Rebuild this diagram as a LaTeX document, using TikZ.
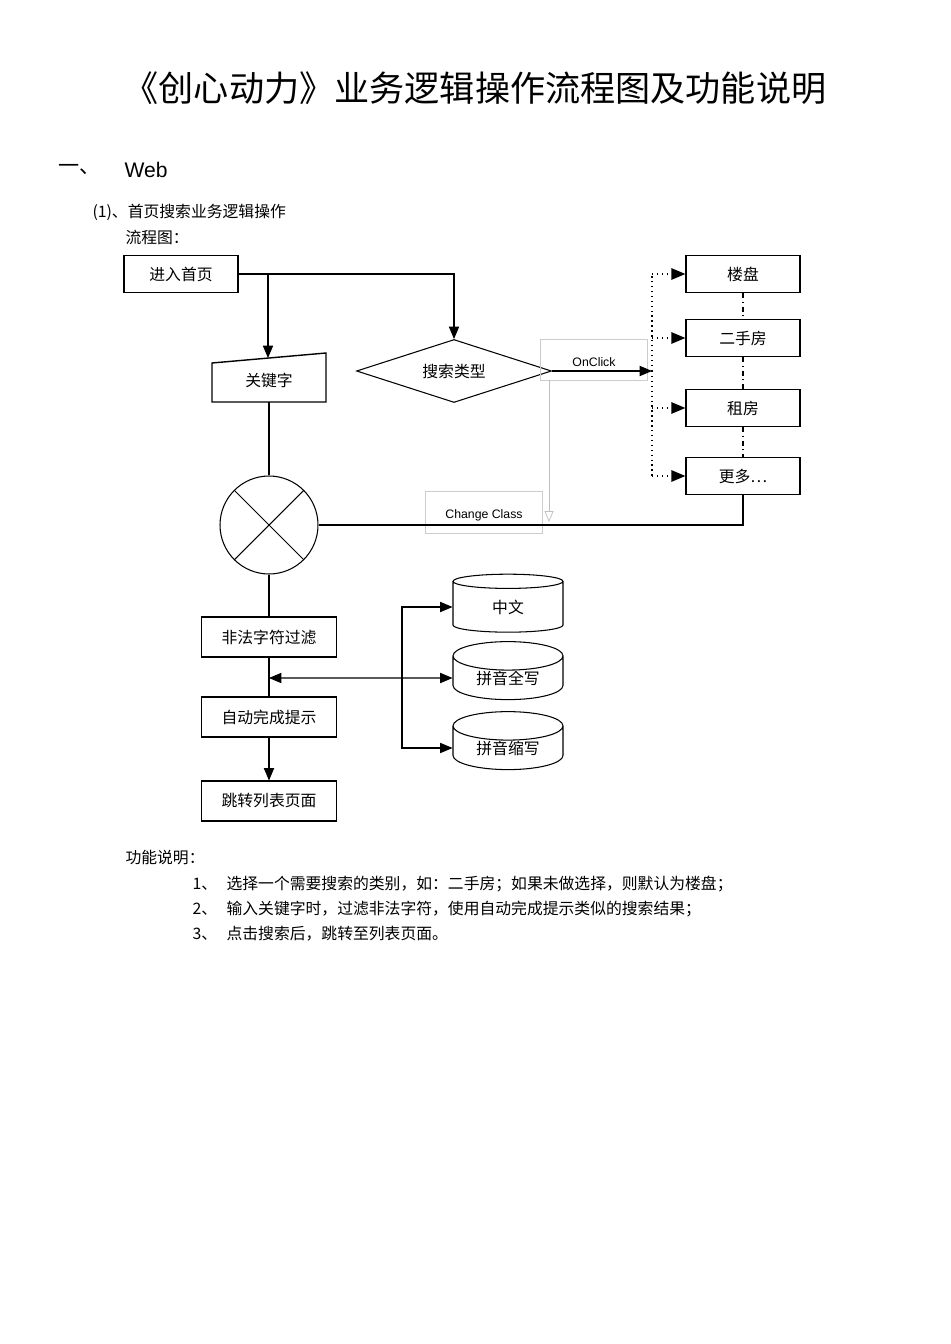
\documentclass[tikz,border=0pt]{standalone}
\usepackage{fontspec}
\setmainfont{Liberation Sans}
\newfontfamily\cjk{Noto Sans CJK SC}
\usetikzlibrary{arrows,shapes.geometric}

\begin{document}
\begin{tikzpicture}[x=0.02cm,y=-0.02cm,>=triangle 45,semithick,
  box/.style={draw,rectangle,minimum width=2.28cm,minimum height=0.74cm,inner sep=0pt,font=\cjk\small},
  lbox/.style={draw,rectangle,minimum width=2.7cm,minimum height=0.8cm,inner sep=0pt,font=\cjk\small},
  db/.style={draw,cylinder,shape border rotate=90,aspect=0.45,minimum width=2.2cm,minimum height=1.16cm,inner sep=0pt,font=\cjk\small},
  lab/.style={draw=black!20,thin,rectangle,inner sep=0pt,font=\scriptsize},
  txt/.style={anchor=west,inner sep=0pt,font=\cjk\small}]
      \useasboundingbox (0,0) rectangle (950,1344);

      % headings
      \node (title) at (475,88) {\cjk\fontsize{20}{24}\selectfont 《创心动力》业务逻辑操作流程图及功能说明};
      \node[txt,font=\cjk\large] (h1) at (58,170) {一、};
      \node[txt,font=\large] (h1b) at (124,170) {Web};
      \node[txt] (h2) at (92,212) {(1)、首页搜索业务逻辑操作};
      \node[txt] (h3) at (125,237) {流程图：};

      % left column
      \node [box] (home) at (181,274) {进入首页};
      \coordinate (k1) at (212,363); \coordinate (k2) at (326,353);
      \coordinate (k3) at (326,402); \coordinate (k4) at (212,402);
      \draw [thick] (k1) -- (k2) -- (k3) -- (k4) -- cycle;
      \node [font=\cjk\small] (key) at (269,380) {关键字};
      \node [draw,circle,minimum size=1.96cm,inner sep=0pt] (mix) at (269,525) {};
      \draw (mix.north west) -- (mix.south east) (mix.north east) -- (mix.south west);
      \node [lbox] (filter) at (269,637) {非法字符过滤};
      \node [lbox] (auto) at (269,717) {自动完成提示};
      \node [lbox] (jump) at (269,801) {跳转列表页面};

      % search type
      \node [draw,diamond,aspect=3.1,minimum width=3.9cm,minimum height=1.26cm,inner sep=0pt,font=\cjk\small] (type) at (454,371) {搜索类型};
      \node [lab,minimum width=2.14cm,minimum height=0.82cm] (click) at (594,360) {};
      \node [font=\scriptsize] (clicklab) at (594,362) {OnClick};
      \node [lab,minimum width=2.34cm,minimum height=0.84cm] (chg) at (484,512) {};
      \node [font=\scriptsize] (chglab) at (484,515) {Change Class};

      % categories
      \node [box,thick] (c1) at (743,274) {楼盘};
      \node [box,thick] (c2) at (743,338) {二手房};
      \node [box,thick] (c3) at (743,408) {租房};
      \node [box,thick] (c4) at (743,476) {更多…};
      \coordinate (bus) at (652,371);

      % dictionaries
      \node [db] (d1) at (508,607) {中文};
      \node [db] (d2) at (508,678) {拼音全写};
      \node [db] (d3) at (508,748) {拼音缩写};
      \coordinate (br) at (268,274);
      \coordinate (kin) at (268,358);
      \coordinate (split) at (269,678);
      \coordinate (fork) at (402,678);

      % connectors
      \draw [->] (home.east) -| (type.north);
      \draw [->] (br) -- (kin);
      \draw [->] (type.east) -- (bus);
      \draw [dotted,thick] (bus) -- (bus |- c1.west) (bus) -- (bus |- c4.west);
      \foreach \c in {c1,c2,c3,c4}
        \draw [dotted,thick,->] (bus |- \c.west) -- (\c.west);
      \draw [dash dot] (c1.south) -- (c2.north) (c2.south) -- (c3.north) (c3.south) -- (c4.north);
      \draw [black!25,thin,-open triangle 45] (549,380) -- (549,522);
      \draw (c4.south) |- (mix.east);
      \draw (269,402) -- (mix.north);
      \draw (mix.south) -- (filter.north);
      \draw (filter.south) -- (auto.north);
      \draw [<->] (split) -- (d2.west);
      \draw [->] (fork) |- (d1.west);
      \draw [->] (fork) |- (d3.west);
      \draw [->] (auto.south) -- (jump.north);

      % notes
      \node[txt] (n0) at (125,858) {功能说明：};
      \node[txt] (n1) at (192,884) {1、\hspace{0.6em}选择一个需要搜索的类别，如：二手房；如果未做选择，则默认为楼盘；};
      \node[txt] (n2) at (192,909) {2、\hspace{0.6em}输入关键字时，过滤非法字符，使用自动完成提示类似的搜索结果；};
      \node[txt] (n3) at (192,934) {3、\hspace{0.6em}点击搜索后，跳转至列表页面。};
\end{tikzpicture}
\end{document}
